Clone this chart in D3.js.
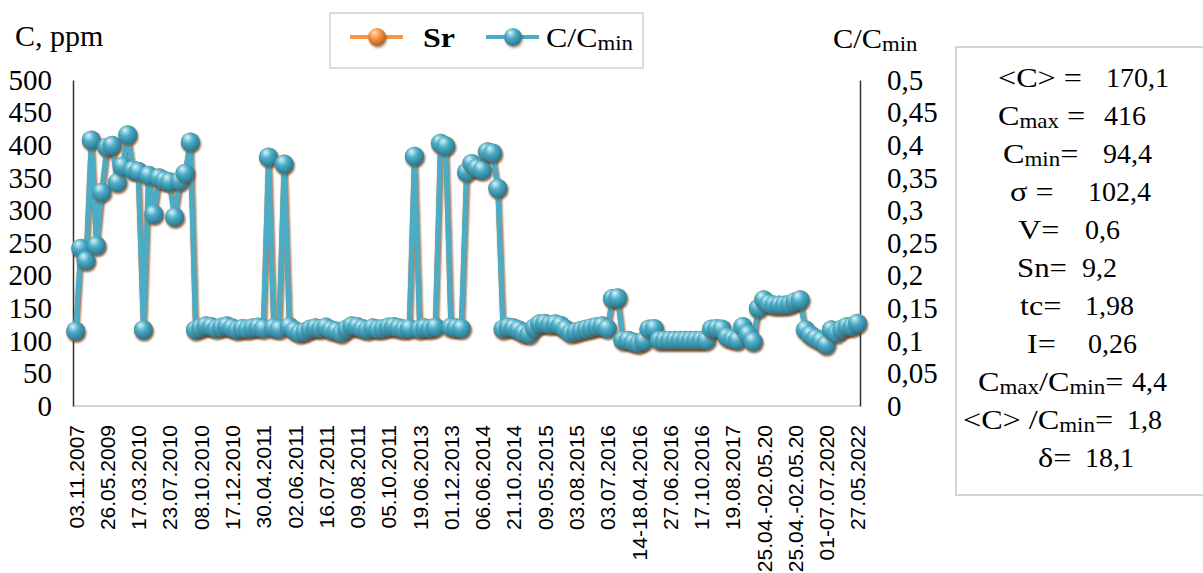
<!DOCTYPE html>
<html>
<head>
<meta charset="utf-8">
<script src="https://cdn.jsdelivr.net/npm/d3@7"></script>
<style>
  body { margin: 0; background: #fff; }
  svg text { fill: #000; }
</style>
</head>
<body>
<script>
/* ***************************************************************** */
/* DATA ************************************************************ */
// Sr, ppm -- one value per sampling (151 samplings)
var srValues = [
  115, 242, 223, 408, 246, 328, 397, 400, 343, 368,
  416, 362, 360, 117, 354, 294, 350, 346, 344, 290,
  345, 357, 405, 117, 120, 123, 122, 119, 121, 123,
  120, 117, 119, 118, 120, 121, 119, 382, 120, 118,
  371, 122, 116, 112, 114, 118, 120, 119, 121, 117,
  115, 112, 118, 123, 122, 119, 117, 120, 118, 119,
  121, 122, 120, 118, 119, 383, 118, 120, 119, 121,
  403, 399, 121, 120, 119, 359, 372, 365, 362, 390,
  388, 334, 118, 121, 120, 117, 112, 110, 120, 126,
  127, 125, 126, 124, 118, 112, 114, 116, 118, 120,
  122, 123, 119, 165, 166, 101, 101,  98,  96, 100,
  118, 119, 101, 101, 101, 101, 101, 101, 101, 101,
  101, 101, 118, 119, 118, 106, 103, 101, 122, 110,
   99, 150, 163, 157, 155, 155, 155, 156, 160, 163,
  117, 109, 104, 100,  94, 117, 112, 118, 122, 122,
  127
];
// C/Cmin is plotted on the right axis and sits exactly on the Sr curve
var ratioValues = srValues;

// every 6th sampling gets a date label
var labelStep = 6;
var tickLabels = [
  "03.11.2007", "26.05.2009", "17.03.2010", "23.07.2010", "08.10.2010",
  "17.12.2010", "30.04.2011", "02.06.2011", "16.07.2011", "09.08.2011",
  "05.10.2011", "19.06.2013", "01.12.2013", "06.06.2014", "21.10.2014",
  "09.05.2015", "03.08.2015", "03.07.2016", "14-18.04.2016", "27.06.2016",
  "17.10.2016", "19.08.2017", "25.04.-02.05.20", "25.04.-02.05.20",
  "01-07.07.2020", "27.05.2022"
];

var leftTicks  = [0, 50, 100, 150, 200, 250, 300, 350, 400, 450, 500];
var rightTicks = [0, 0.05, 0.1, 0.15, 0.2, 0.25, 0.3, 0.35, 0.4, 0.45, 0.5];

// statistics panel: label pieces ([text, isSubscript]) and values
var statLabels = [
  [["<C> ="]],
  [["C"], ["max", 1], [" ="]],
  [["C"], ["min", 1], ["="]],
  [["σ ="]],
  [["V="]],
  [["Sn="]],
  [["tc="]],
  [["I="]],
  [["C"], ["max", 1], ["/C"], ["min", 1], ["="]],
  [["<C>"], [" /C"], ["min", 1], ["="]],
  [["δ="]]
];
var statValues = ["170,1", "416", "94,4", "102,4", "0,6", "9,2", "1,98", "0,26", "4,4", "1,8", "18,1"];

/* ***************************************************************** */
/* LAYOUT ********************************************************** */
var W = 1203, H = 573;
var plot = { left: 73, right: 860, top: 80, bottom: 406 };
var serif = "\"Times New Roman\", \"Liberation Serif\", \"DejaVu Serif\", serif";
var sans  = "Arial, \"Liberation Sans\", sans-serif";
var BLUE = "#4bacc6", ORANGE = "#f79646";

var svg = d3.select("body").append("svg")
    .attr("width", W)
    .attr("height", H)
    .attr("viewBox", "0 0 " + W + " " + H);

// stretch a text horizontally towards x0..x1 (the source is a widened picture), not more than 15%
function fitText(sel, x0, x1) {
  var w = sel.node().getBBox().width;
  var sx = Math.max(1, Math.min(1.15, (x1 - x0) / w));
  sel.attr("transform", "translate(" + x0 + ",0) scale(" + sx + ",1) translate(" + (-x0) + ",0)");
}

var defs = svg.append("defs");
function ballGradient(id, light, mid, dark) {
  var g = defs.append("radialGradient").attr("id", id)
      .attr("cx", "40%").attr("cy", "35%").attr("r", "65%")
      .attr("fx", "35%").attr("fy", "25%");
  g.append("stop").attr("offset", "0%").attr("stop-color", light);
  g.append("stop").attr("offset", "45%").attr("stop-color", mid);
  g.append("stop").attr("offset", "100%").attr("stop-color", dark);
}
ballGradient("ballBlue", "#d8f3fb", BLUE, "#27788f");
ballGradient("ballOrange", "#fde0c5", ORANGE, "#b8611c");

var shadow = defs.append("filter").attr("id", "shadow")
    .attr("x", "-50%").attr("y", "-50%").attr("width", "200%").attr("height", "200%");
shadow.append("feDropShadow")
    .attr("dx", 1).attr("dy", 2).attr("stdDeviation", 1.3)
    .attr("flood-color", "#6b3a10").attr("flood-opacity", 0.55);

/* ***************************************************************** */
/* SCALES & AXES *************************************************** */
var x = d3.scalePoint()
    .domain(d3.range(srValues.length))
    .range([plot.left, plot.right])
    .padding(0.5);
var yL = d3.scaleLinear().domain([0, 500]).range([plot.bottom, plot.top]);
var yR = d3.scaleLinear().domain([0, 0.5]).range([plot.bottom, plot.top]);

var ruLocale = d3.formatLocale({ decimal: ",", thousands: " ", grouping: [3], currency: ["", ""] });
var fmtR = ruLocale.format("~g");

// bottom axis (light grey line)
svg.append("line")
    .attr("x1", plot.left).attr("x2", plot.right)
    .attr("y1", plot.bottom).attr("y2", plot.bottom)
    .attr("stroke", "#c8c8c8").attr("stroke-width", 1.5);

var gx = svg.append("g")
    .attr("transform", "translate(0," + plot.bottom + ")")
    .call(d3.axisBottom(x)
      .tickValues(d3.range(0, srValues.length, labelStep))
      .tickSize(0)
      .tickFormat(function (d) { return tickLabels[d / labelStep]; }));
gx.select(".domain").remove();
gx.attr("font-family", null).attr("font-size", null);
gx.selectAll("text")
    .attr("transform", "rotate(-90)")
    .attr("x", -19).attr("y", 0).attr("dy", "0.36em")
    .attr("text-anchor", "end")
    .attr("font-family", sans).attr("font-size", 21);

var gl = svg.append("g")
    .attr("transform", "translate(" + plot.left + ",0)")
    .call(d3.axisLeft(yL).tickValues(leftTicks).tickSize(0).tickPadding(21));
gl.attr("font-family", serif).attr("font-size", 29);
gl.select(".domain").attr("stroke", "#333").attr("stroke-width", 1.5);

var gr = svg.append("g")
    .attr("transform", "translate(" + plot.right + ",0)")
    .call(d3.axisRight(yR).tickValues(rightTicks).tickSize(0).tickPadding(27).tickFormat(fmtR));
gr.attr("font-family", serif).attr("font-size", 29);
gr.select(".domain").attr("stroke", "#333").attr("stroke-width", 1.5);

// axis titles
svg.append("text")
    .attr("x", 15).attr("y", 46)
    .attr("font-family", serif).attr("font-size", 30)
    .text("C, ppm");

var rt = svg.append("text")
    .attr("x", 833).attr("y", 48)
    .attr("font-family", serif).attr("font-size", 28);
rt.append("tspan").text("C/C");
rt.append("tspan").attr("dy", 3).attr("font-size", 21).text("min");
fitText(rt, 833, 918);

/* ***************************************************************** */
/* SERIES ********************************************************** */
function drawSeries(values, yScale, color, grad) {
  var g = svg.append("g");
  g.append("path")
      .datum(values)
      .attr("fill", "none")
      .attr("stroke", color)
      .attr("stroke-width", 5)
      .attr("stroke-linejoin", "round")
      .attr("filter", "url(#shadow)")
      .attr("d", d3.line()
        .x(function (d, i) { return x(i); })
        .y(function (d) { return yScale(d); }));
  g.selectAll("circle")
      .data(values)
      .join("circle")
      .attr("cx", function (d, i) { return x(i); })
      .attr("cy", function (d) { return yScale(d); })
      .attr("r", 9.5)
      .attr("fill", "url(#" + grad + ")")
      .attr("filter", "url(#shadow)");
}
drawSeries(srValues, yL, ORANGE, "ballOrange");
drawSeries(ratioValues, yL, BLUE, "ballBlue");

/* ***************************************************************** */
/* LEGEND ********************************************************** */
var lg = svg.append("g");
lg.append("rect")
    .attr("x", 330).attr("y", 13).attr("width", 313).attr("height", 55)
    .attr("fill", "#fff").attr("stroke", "#d0d0d0").attr("stroke-width", 1.5);

var legendItems = [
  { name: "Sr", color: ORANGE, grad: "ballOrange", x0: 350, tx: 423 },
  { name: "C/C", sub: "min", color: BLUE, grad: "ballBlue", x0: 486, tx: 546 }
];
legendItems.forEach(function (it) {
  lg.append("line")
      .attr("x1", it.x0).attr("x2", it.x0 + 53)
      .attr("y1", 37).attr("y2", 37)
      .attr("stroke", it.color).attr("stroke-width", 4);
  lg.append("circle")
      .attr("cx", it.x0 + 27).attr("cy", 37).attr("r", 9)
      .attr("fill", "url(#" + it.grad + ")")
      .attr("filter", "url(#shadow)");
  var t = lg.append("text")
      .attr("x", it.tx).attr("y", 47)
      .attr("font-family", serif).attr("font-size", 28);
  if (it.sub) {
    t.append("tspan").text(it.name);
    t.append("tspan").attr("dy", 3).attr("font-size", 20).text(it.sub);
    fitText(t, it.tx, 633);
  } else {
    t.attr("font-weight", "bold").text(it.name);
    fitText(t, it.tx, 455);
  }
});

/* ***************************************************************** */
/* STATISTICS PANEL ************************************************ */
var statLabelX   = [998, 998, 1003, 1010, 1018, 1017, 1020, 1027, 978, 963, 1038];
var statLabelEnd = [1088, 1088, 1085, 1067, 1067, 1067, 1067, 1058, 1127, 1117, 1075];
var statValueX   = [1106, 1104, 1103, 1088, 1085, 1082, 1085, 1088, 1132, 1127, 1085];

svg.append("rect")
    .attr("x", 956).attr("y", 47).attr("width", 270).attr("height", 448)
    .attr("fill", "#fff").attr("stroke", "#c8c8c8").attr("stroke-width", 1.5);

statLabels.forEach(function (parts, i) {
  var yb = 87 + i * 38;
  var t = svg.append("text")
      .attr("x", statLabelX[i]).attr("y", yb)
      .attr("font-family", serif).attr("font-size", 28);
  var shifted = false;
  parts.forEach(function (p) {
    var sp = t.append("tspan").text(p[0]);
    if (p[1]) {
      sp.attr("dy", shifted ? 0 : 3).attr("font-size", 20);
      shifted = true;
    } else if (shifted) {
      sp.attr("dy", -3);
      shifted = false;
    }
  });
  fitText(t, statLabelX[i], statLabelEnd[i]);
  svg.append("text")
      .attr("x", statValueX[i]).attr("y", yb)
      .attr("font-family", serif).attr("font-size", 28)
      .text(statValues[i]);
});
</script>
</body>
</html>
